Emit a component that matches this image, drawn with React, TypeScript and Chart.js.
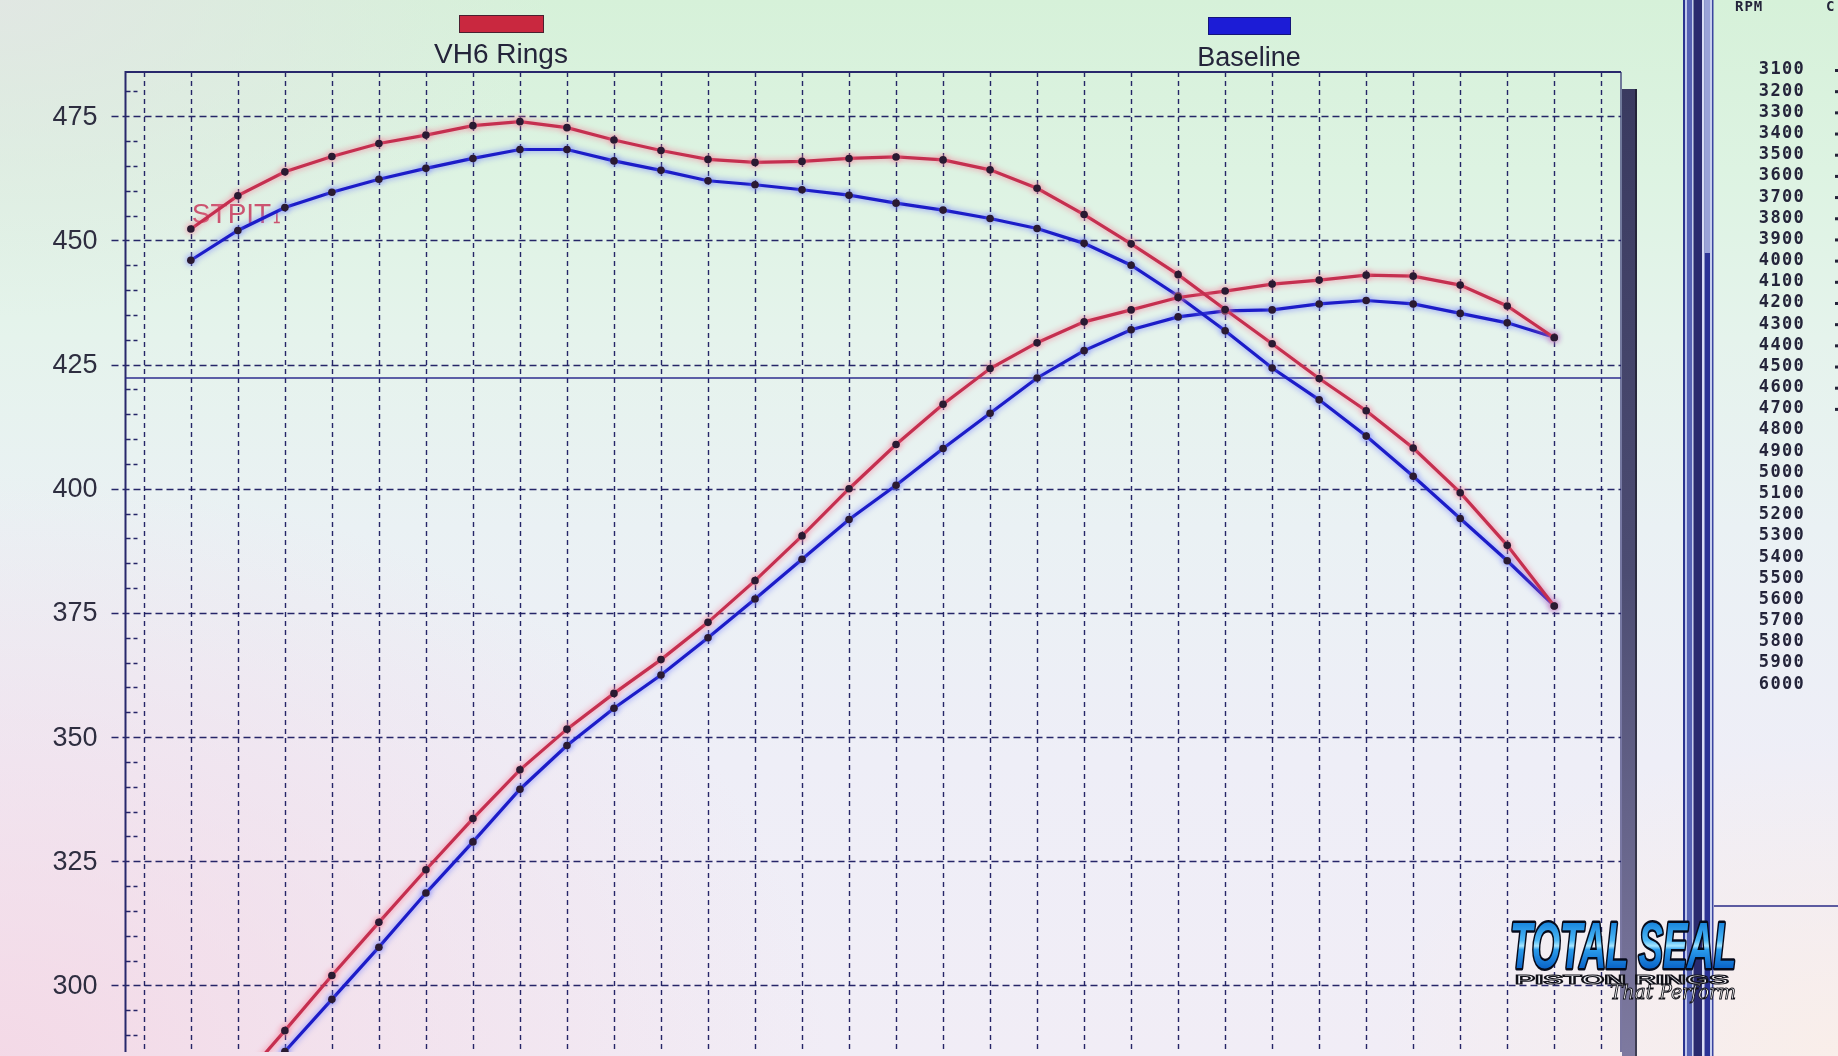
import React, { useEffect, useRef } from "react";
import { Chart, registerables } from "chart.js";

Chart.register(...registerables);

const W = 1838;
const H = 1056;

// ---- data ----
const rpm = [3100, 3200, 3300, 3400, 3500, 3600, 3700, 3800, 3900, 4000, 4100, 4200, 4300, 4400, 4500, 4600, 4700, 4800, 4900, 5000, 5100, 5200, 5300, 5400, 5500, 5600, 5700, 5800, 5900, 6000];

const vh6Torque = [452.3, 459.0, 463.8, 466.9, 469.5, 471.2, 473.1, 473.9, 472.7, 470.2, 468.1, 466.3, 465.7, 465.9, 466.5, 466.8, 466.2, 464.2, 460.5, 455.2, 449.3, 443.1, 436.1, 429.2, 422.2, 415.7, 408.2, 399.2, 388.6, 376.4];
const baselineTorque = [446.0, 452.0, 456.6, 459.7, 462.3, 464.5, 466.5, 468.3, 468.3, 466.0, 464.1, 462.0, 461.2, 460.2, 459.1, 457.5, 456.1, 454.4, 452.4, 449.4, 445.0, 438.8, 431.8, 424.3, 417.9, 410.6, 402.5, 394.0, 385.5, 376.4];
const vh6Hp = [267.0, 280.0, 290.9, 302.0, 312.7, 323.3, 333.6, 343.4, 351.6, 358.8, 365.6, 373.1, 381.5, 390.5, 400.0, 408.9, 417.0, 424.2, 429.4, 433.6, 436.0, 438.5, 439.8, 441.2, 442.0, 443.0, 442.8, 441.0, 436.8, 430.4];
const baselineHp = [263.0, 275.0, 286.7, 297.2, 307.7, 318.6, 328.9, 339.5, 348.3, 355.8, 362.5, 370.0, 377.8, 385.8, 393.8, 400.7, 408.1, 415.2, 422.3, 427.8, 432.0, 434.6, 435.8, 436.0, 437.2, 437.9, 437.2, 435.3, 433.4, 430.5];

const yMajorTicks = [300, 325, 350, 375, 400, 425, 450, 475];
const yMinorTicks = [290, 295, 305, 310, 315, 320, 330, 335, 340, 345, 355, 360, 365, 370, 380, 385, 390, 395, 405, 410, 415, 420, 430, 435, 440, 445, 455, 460, 465, 470, 480];
const xGridRpm = [3000, ...rpm, 6100];
const cursorLevel = 422.3;
const legendNames = ["VH6 Rings", "Baseline"];
const noteText = "STPIT";
const noteAt = { x: 3100, y: 453.6 };

const X_MIN = 2961;
const X_MAX = 6142;
const Y_MIN = 286.6;
const Y_MAX = 483.9;

const RED = "#c52f4f";
const RED_GLOW = "rgba(245,120,150,0.95)";
const BLUE = "#1c1cc8";
const BLUE_GLOW = "rgba(110,120,255,0.95)";
const GRID = "rgba(26,26,96,0.95)";
const FONT = '"Liberation Sans", Arial, sans-serif';

const glowByIndex = [RED_GLOW, RED_GLOW, BLUE_GLOW, BLUE_GLOW];

function drawPanel(ctx: CanvasRenderingContext2D) {
  // shadow bar at right of plot
  const g = ctx.createLinearGradient(0, 89, 0, H);
  g.addColorStop(0, "#3a3a60");
  g.addColorStop(0.5, "#4c4c72");
  g.addColorStop(1, "#7e7aa0");
  ctx.fillStyle = g;
  ctx.fillRect(1622, 89, 15, H - 89);
  ctx.fillStyle = "rgba(20,20,30,0.6)";
  ctx.fillRect(1635, 89, 2, H - 89);

  // window separator bars
  const bars: [number, number, string][] = [
    [1683, 2, "#2a3490"],
    [1685, 2, "#c0c8ec"],
    [1687, 5, "#5662b4"],
    [1692, 1.5, "#c8d0f0"],
    [1693.5, 8.5, "#2a2a6e"],
    [1702, 2.5, "#d8dcf4"],
    [1704.5, 5.5, "#2c3296"],
    [1710, 2, "#c8d0ee"],
    [1712, 1.5, "#3a44a0"],
  ];
  bars.forEach(([x, w, c]) => {
    ctx.fillStyle = c;
    ctx.fillRect(x, 0, w, H);
  });
  ctx.fillStyle = "#9aa2d8";
  ctx.fillRect(1704.5, 0, 5.5, 253);

  // panel line
  ctx.strokeStyle = "#2a2a86";
  ctx.lineWidth = 1.5;
  ctx.beginPath();
  ctx.moveTo(1714, 906);
  ctx.lineTo(W, 906);
  ctx.stroke();

  // RPM column
  ctx.fillStyle = "#24243a";
  ctx.textBaseline = "middle";
  ctx.font = 'bold 14px "DejaVu Sans Mono", monospace';
  (ctx as any).letterSpacing = "1px";
  ctx.textAlign = "left";
  ctx.fillText("RPM", 1735, 7);
  ctx.fillText("C", 1826, 7);
  ctx.font = 'bold 17px "DejaVu Sans Mono", monospace';
  (ctx as any).letterSpacing = "1.3px";
  ctx.textAlign = "right";
  rpm.forEach((r, i) => {
    const yy = 70 + i * 21.18;
    ctx.fillText(String(r), 1805, yy);
    if (i < 17) ctx.fillRect(1835, yy - 1, 3, 3);
  });
  (ctx as any).letterSpacing = "0px";
  ctx.textAlign = "left";
}

function drawLogo(ctx: CanvasRenderingContext2D) {
  // TOTAL SEAL
  ctx.save();
  ctx.textAlign = "left";
  ctx.textBaseline = "alphabetic";
  ctx.font = `italic bold 64px ${FONT}`;
  const t = "TOTAL SEAL";
  const sx = 226 / ctx.measureText(t).width;
  ctx.translate(1510, 968);
  ctx.scale(sx, 1);
  const g = ctx.createLinearGradient(0, -46, 0, 0);
  g.addColorStop(0, "#1784dc");
  g.addColorStop(0.4, "#4cb8f6");
  g.addColorStop(0.52, "#a8e6ff");
  g.addColorStop(0.6, "#2a9cec");
  g.addColorStop(1, "#0a64c8");
  ctx.lineJoin = "round";
  ctx.lineWidth = 5;
  ctx.strokeStyle = "#060a1a";
  ctx.strokeText(t, 0, 0);
  ctx.fillStyle = g;
  ctx.fillText(t, 0, 0);
  ctx.restore();

  // PISTON RINGS
  ctx.save();
  ctx.textAlign = "left";
  ctx.textBaseline = "alphabetic";
  ctx.font = `bold 13px ${FONT}`;
  const p = "PISTON RINGS";
  const sp = 214 / ctx.measureText(p).width;
  ctx.translate(1515, 984);
  ctx.scale(sp, 1);
  ctx.lineWidth = 1.1;
  ctx.strokeStyle = "#101018";
  ctx.fillStyle = "#f4f4f8";
  ctx.fillText(p, 0, 0);
  ctx.strokeText(p, 0, 0);
  ctx.restore();

  // That Perform
  ctx.save();
  ctx.textAlign = "left";
  ctx.textBaseline = "alphabetic";
  ctx.font = 'italic 21px "DejaVu Serif", serif';
  const s = "That Perform";
  const ss = 126 / ctx.measureText(s).width;
  ctx.translate(1610, 999);
  ctx.scale(ss, 1);
  ctx.lineWidth = 1;
  ctx.strokeStyle = "#101018";
  ctx.fillStyle = "#ffffff";
  ctx.fillText(s, 0, 0);
  ctx.strokeText(s, 0, 0);
  ctx.restore();
}

const decorPlugin = {
  id: "decor",
  beforeDatasetsDraw(chart: any) {
    const { ctx, chartArea: a, scales } = chart;
    const x = scales.x;
    const y = scales.y;
    ctx.save();

    // vertical dashed grid
    ctx.strokeStyle = GRID;
    ctx.lineWidth = 1.4;
    ctx.setLineDash([5, 4]);
    xGridRpm.forEach((r) => {
      const px = Math.round(x.getPixelForValue(r)) + 0.5;
      ctx.beginPath();
      ctx.moveTo(px, a.top);
      ctx.lineTo(px, a.bottom);
      ctx.stroke();
    });

    // horizontal dashed grid
    ctx.lineWidth = 1.5;
    ctx.setLineDash([7, 4]);
    yMajorTicks.forEach((v) => {
      const py = Math.round(y.getPixelForValue(v)) + 0.5;
      ctx.beginPath();
      ctx.moveTo(a.left - 14, py);
      ctx.lineTo(a.right, py);
      ctx.stroke();
    });

    // minor ticks
    ctx.setLineDash([5, 3]);
    ctx.lineWidth = 1.5;
    yMinorTicks.forEach((v) => {
      const py = Math.round(y.getPixelForValue(v)) + 0.5;
      if (py < a.top || py > a.bottom) return;
      ctx.beginPath();
      ctx.moveTo(a.left, py);
      ctx.lineTo(a.left + 12, py);
      ctx.stroke();
    });
    ctx.setLineDash([]);

    // frame
    ctx.strokeStyle = "#28286c";
    ctx.lineWidth = 2;
    ctx.beginPath();
    ctx.moveTo(a.left, a.bottom);
    ctx.lineTo(a.left, a.top);
    ctx.lineTo(a.right, a.top);
    ctx.stroke();
    ctx.lineWidth = 1.2;
    ctx.beginPath();
    ctx.moveTo(a.right, a.top);
    ctx.lineTo(a.right, a.bottom);
    ctx.stroke();

    // cursor line
    const cy = y.getPixelForValue(cursorLevel);
    ctx.strokeStyle = "#2c2c8e";
    ctx.lineWidth = 1.5;
    ctx.beginPath();
    ctx.moveTo(a.left, cy);
    ctx.lineTo(a.right, cy);
    ctx.stroke();

    // y labels
    ctx.fillStyle = "#2e2e40";
    ctx.font = `27px ${FONT}`;
    ctx.textAlign = "right";
    ctx.textBaseline = "middle";
    yMajorTicks.forEach((v) => {
      ctx.fillText(String(v), a.left - 28, y.getPixelForValue(v) + 1);
    });

    // legend
    ctx.fillStyle = "#c9283f";
    ctx.fillRect(459, 15, 85, 18);
    ctx.strokeStyle = "#4a2030";
    ctx.lineWidth = 1;
    ctx.strokeRect(459.5, 15.5, 84, 17);
    ctx.fillStyle = "#1c1cd6";
    ctx.fillRect(1208, 17, 83, 18);
    ctx.strokeStyle = "#14147a";
    ctx.strokeRect(1208.5, 17.5, 82, 17);
    ctx.fillStyle = "#24243a";
    ctx.textAlign = "center";
    ctx.textBaseline = "alphabetic";
    ctx.font = `28px ${FONT}`;
    ctx.fillText(legendNames[0], 501, 63);
    ctx.font = `27px ${FONT}`;
    ctx.fillText(legendNames[1], 1249, 66);

    // note text
    const nx = x.getPixelForValue(noteAt.x);
    const ny = y.getPixelForValue(noteAt.y);
    ctx.font = `28px ${FONT}`;
    ctx.textAlign = "left";
    ctx.fillStyle = "rgba(200,56,92,0.85)";
    ctx.fillText(noteText, nx + 1, ny);
    ctx.strokeStyle = "rgba(200,56,92,0.85)";
    ctx.lineWidth = 1.6;
    ctx.beginPath();
    ctx.moveTo(nx + 86, ny - 11);
    ctx.lineTo(nx + 86, ny);
    ctx.moveTo(nx + 83, ny);
    ctx.lineTo(nx + 89, ny);
    ctx.stroke();

    ctx.restore();
  },
  beforeDatasetDraw(chart: any, args: any) {
    const ctx = chart.ctx;
    ctx.save();
    ctx.shadowColor = glowByIndex[args.index];
    ctx.shadowBlur = 6;
  },
  afterDatasetDraw(chart: any) {
    chart.ctx.restore();
  },
  afterDraw(chart: any) {
    const ctx = chart.ctx;
    ctx.save();
    drawPanel(ctx);
    drawLogo(ctx);
    ctx.restore();
  },
};

function toPoints(vals: number[]) {
  return rpm.map((r, i) => ({ x: r, y: vals[i] }));
}

export default function App() {
  const ref = useRef<HTMLCanvasElement | null>(null);

  useEffect(() => {
    document.body.style.margin = "0";
    const canvas = ref.current;
    if (!canvas) return;
    const mk = (label: string, vals: number[], color: string) => ({
      label,
      data: toPoints(vals),
      borderColor: color,
      backgroundColor: color,
      borderWidth: 3.2,
      tension: 0,
      fill: false,
      pointRadius: 3.8,
      pointBackgroundColor: "#2a1a32",
      pointBorderWidth: 0,
    });
    const chart = new Chart(canvas, {
      type: "line",
      data: {
        datasets: [
          mk("VH6 Rings torque", vh6Torque, RED),
          mk("VH6 Rings HP", vh6Hp, RED),
          mk("Baseline torque", baselineTorque, BLUE),
          mk("Baseline HP", baselineHp, BLUE),
        ],
      },
      options: {
        responsive: false,
        animation: false,
        devicePixelRatio: 1,
        layout: { padding: { left: 125.5, top: 72, right: 217, bottom: 0 } },
        scales: {
          x: { type: "linear", min: X_MIN, max: X_MAX, display: false },
          y: { type: "linear", min: Y_MIN, max: Y_MAX, display: false },
        },
        plugins: { legend: { display: false }, tooltip: { enabled: false } },
      },
      plugins: [decorPlugin as any],
    } as any);
    return () => chart.destroy();
  }, []);

  return (
    <div
      style={{
        position: "absolute",
        left: 0,
        top: 0,
        width: W,
        height: H,
        overflow: "hidden",
        background: [
          "radial-gradient(ellipse 45% 55% at 0% 100%, rgba(244,214,228,0.85), rgba(244,214,228,0) 100%)",
          "radial-gradient(ellipse 30% 30% at 0% 0%, rgba(226,230,228,0.9), rgba(226,230,228,0) 100%)",
          "radial-gradient(ellipse 25% 30% at 100% 100%, rgba(250,238,232,0.9), rgba(250,238,232,0) 100%)",
          "linear-gradient(to bottom, #d6f1d9 0%, #ddf3e2 16%, #e5f3ec 32%, #eaf1f4 50%, #eeeef7 72%, #f1edf6 100%)",
        ].join(", "),
      }}
    >
      <canvas ref={ref} width={W} height={H} style={{ display: "block", width: W, height: H }} />
    </div>
  );
}
